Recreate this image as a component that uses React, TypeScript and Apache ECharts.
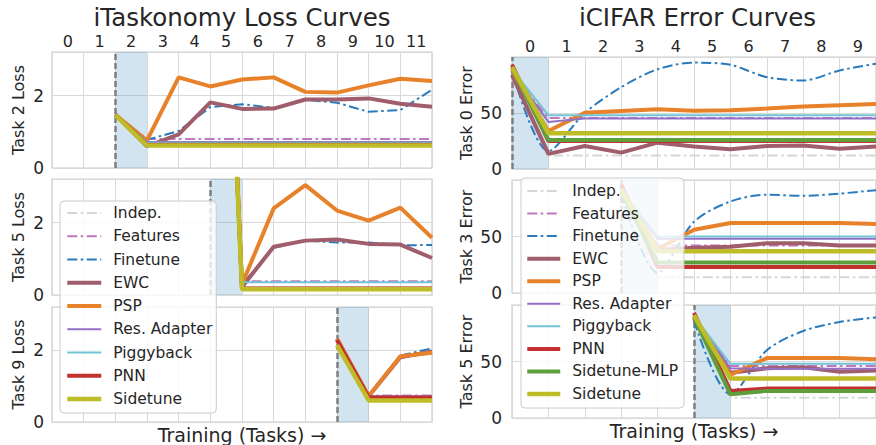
import React, { useEffect, useRef } from 'react';
import * as echarts from 'echarts';

// ---------- categories / tick labels ----------
const methods = ['Indep.', 'Features', 'Finetune', 'EWC', 'PSP', 'Res. Adapter', 'Piggyback', 'PNN', 'Sidetune-MLP', 'Sidetune'];
const leftLegendNames = ['Indep.', 'Features', 'Finetune', 'EWC', 'PSP', 'Res. Adapter', 'Piggyback', 'PNN', 'Sidetune'];
const taskonomyTicks = ['0', '1', '2', '3', '4', '5', '6', '7', '8', '9', '10', '11'];
const cifarTicks = ['0', '1', '2', '3', '4', '5', '6', '7', '8', '9'];
const taskonomyYTicks = [0, 2];
const cifarYTicks = [0, 50];

// ---------- iTaskonomy, Task 2 (starts at task 2) ----------
const tk2Start = 2;
const tk2: Record<string, number[]> = {
  'Indep.': [1.45, 0.64, 0.64, 0.64, 0.64, 0.64, 0.64, 0.64, 0.64, 0.64, 0.64],
  'Features': [1.47, 0.8, 0.8, 0.8, 0.8, 0.8, 0.8, 0.8, 0.8, 0.8, 0.8],
  'Finetune': [1.47, 0.78, 1.02, 1.68, 1.76, 1.66, 1.88, 1.8, 1.55, 1.6, 2.16],
  'EWC': [1.47, 0.6, 0.93, 1.81, 1.63, 1.64, 1.89, 1.89, 1.92, 1.77, 1.69],
  'PSP': [1.47, 0.76, 2.5, 2.25, 2.44, 2.5, 2.1, 2.08, 2.28, 2.46, 2.4],
  'Res. Adapter': [1.47, 0.72, 0.72, 0.72, 0.72, 0.72, 0.72, 0.72, 0.72, 0.72, 0.72],
  'Piggyback': [1.47, 0.7, 0.7, 0.7, 0.7, 0.7, 0.7, 0.7, 0.7, 0.7, 0.7],
  'PNN': [1.47, 0.64, 0.64, 0.64, 0.64, 0.64, 0.64, 0.64, 0.64, 0.64, 0.64],
  'Sidetune': [1.46, 0.62, 0.62, 0.62, 0.62, 0.62, 0.62, 0.62, 0.62, 0.62, 0.62],
};

// ---------- iTaskonomy, Task 5 ----------
const tk5Start = 5;
const tk5: Record<string, number[]> = {
  'Indep.': [20, 0.17, 0.17, 0.17, 0.17, 0.17, 0.17, 0.17],
  'Features': [20, 0.38, 0.38, 0.38, 0.38, 0.38, 0.38, 0.38],
  'Finetune': [20, 0.3, 1.3, 1.5, 1.45, 1.45, 1.37, 1.38],
  'EWC': [20, 0.22, 1.33, 1.5, 1.53, 1.41, 1.39, 1.02],
  'PSP': [20, 0.3, 2.39, 3.03, 2.33, 2.05, 2.41, 1.58],
  'Res. Adapter': [20, 0.2, 0.2, 0.2, 0.2, 0.2, 0.2, 0.2],
  'Piggyback': [20, 0.35, 0.35, 0.35, 0.35, 0.35, 0.35, 0.35],
  'PNN': [20, 0.18, 0.18, 0.18, 0.18, 0.18, 0.18, 0.18],
  'Sidetune': [20, 0.16, 0.16, 0.16, 0.16, 0.16, 0.16, 0.16],
};

// ---------- iTaskonomy, Task 9 ----------
const tk9Start = 9;
const tk9: Record<string, number[]> = {
  'Indep.': [2.15, 0.6, 0.6, 0.6],
  'Features': [2.3, 0.74, 0.74, 0.74],
  'Finetune': [2.3, 0.72, 1.85, 2.05],
  'EWC': [2.3, 0.72, 1.8, 1.96],
  'PSP': [2.32, 0.72, 1.83, 1.93],
  'Res. Adapter': [2.25, 0.72, 0.72, 0.72],
  'Piggyback': [2.25, 0.7, 0.7, 0.7],
  'PNN': [2.28, 0.68, 0.68, 0.68],
  'Sidetune': [2.14, 0.6, 0.6, 0.6],
};

// ---------- iCIFAR, Task 0 ----------
const c0Start = 0;
const c0: Record<string, number[]> = {
  'Indep.': [88, 12, 12, 12, 12, 12, 12, 12, 12, 12, 12],
  'Features': [85, 45.5, 45.5, 45.5, 45.5, 45.5, 45.5, 45.5, 45.5, 45.5, 45.5],
  'Finetune': [88, 16, 50, 73, 89, 95, 93, 82, 79, 88, 94],
  'EWC': [84, 13.5, 20.5, 14.6, 23.5, 20, 17.6, 20.5, 21, 18, 20],
  'PSP': [88, 34, 50.3, 51.8, 53.3, 52, 52.5, 54, 55.7, 57, 58],
  'Res. Adapter': [87, 42, 45, 45, 45, 45, 45, 45, 45, 45, 45],
  'Piggyback': [89, 48, 48, 48, 48, 48, 48, 48, 48, 48, 48],
  'PNN': [93, 25, 25, 25, 25, 25, 25, 25, 25, 25, 25],
  'Sidetune-MLP': [90, 26, 26, 26, 26, 26, 26, 26, 26, 26, 26],
  'Sidetune': [91, 32, 32, 32, 32, 32, 32, 32, 32, 32, 32],
};

// ---------- iCIFAR, Task 3 ----------
const c3Start = 3;
const c3: Record<string, number[]> = {
  'Indep.': [88, 14, 14, 14, 14, 14, 14, 14],
  'Features': [89, 42, 42, 42, 42, 42, 42, 42],
  'Finetune': [88, 18, 63, 81, 87, 86, 88, 91],
  'EWC': [93, 38, 40, 41, 44, 44, 42, 42],
  'PSP': [90, 39, 56, 62, 62, 62, 62, 61],
  'Res. Adapter': [90, 48, 48, 48, 48, 48, 48, 48],
  'Piggyback': [91, 50, 50, 50, 50, 50, 50, 50],
  'PNN': [96, 23, 23, 23, 23, 23, 23, 23],
  'Sidetune-MLP': [90, 27, 27, 27, 27, 27, 27, 27],
  'Sidetune': [92, 37, 37, 37, 37, 37, 37, 37],
};

// ---------- iCIFAR, Task 5 ----------
const c5Start = 5;
const c5: Record<string, number[]> = {
  'Indep.': [88, 18, 18, 18, 18, 18],
  'Features': [88, 46, 46, 46, 46, 46],
  'Finetune': [86, 21, 60, 77, 85, 89],
  'EWC': [88, 40, 44, 45, 41, 42],
  'PSP': [90, 38, 53, 53, 53, 52],
  'Res. Adapter': [89, 44, 43.5, 43.5, 43.5, 43.5],
  'Piggyback': [90, 48, 48, 48, 48, 48],
  'PNN': [93, 24, 26, 26, 26, 26],
  'Sidetune-MLP': [89, 21, 24, 24, 24, 24],
  'Sidetune': [91, 35, 35, 35, 35, 35],
};

// ---------- styles ----------
const dashDot = [10, 3.5, 2.5, 3.5];
const styles: Record<string, { color: string; width: number; dash?: number[] }> = {
  'Indep.': { color: '#d6d6d6', width: 2, dash: dashDot },
  'Features': { color: '#c276bd', width: 2, dash: dashDot },
  'Finetune': { color: '#2a7bbd', width: 2, dash: dashDot },
  'EWC': { color: '#a05e6d', width: 4 },
  'PSP': { color: '#e8822a', width: 4 },
  'Res. Adapter': { color: '#9370c6', width: 2 },
  'Piggyback': { color: '#72c3d5', width: 2 },
  'PNN': { color: '#c3312f', width: 4 },
  'Sidetune-MLP': { color: '#5e9f3c', width: 4 },
  'Sidetune': { color: '#bfbd27', width: 4.5 },
};

const TEXT = '#262626';
const FONT = 'DejaVu Sans';

type Panel = {
  grid: { left: number; top: number; width: number; height: number };
  start: number;
  data: Record<string, number[]>;
  xMax: number;
  yMax: number;
  yInterval: number;
  yName: string;
  topTicks?: string[];
  bottomName?: boolean;
  smoothFinetune?: boolean;
  nameGap: number;
};

const panels: Panel[] = [
  { grid: { left: 52, top: 52, width: 380, height: 116 }, start: tk2Start, data: tk2, xMax: 12, yMax: 3.2, yInterval: taskonomyYTicks[1], yName: 'Task 2 Loss', topTicks: taskonomyTicks, nameGap: 26 },
  { grid: { left: 52, top: 179, width: 380, height: 116 }, start: tk5Start, data: tk5, xMax: 12, yMax: 3.2, yInterval: taskonomyYTicks[1], yName: 'Task 5 Loss', nameGap: 26 },
  { grid: { left: 52, top: 307, width: 380, height: 115 }, start: tk9Start, data: tk9, xMax: 12, yMax: 3.2, yInterval: taskonomyYTicks[1], yName: 'Task 9 Loss', bottomName: true, nameGap: 26 },
  { grid: { left: 512, top: 57, width: 371, height: 112 }, start: c0Start, data: c0, xMax: 10, yMax: 100, yInterval: cifarYTicks[1], yName: 'Task 0 Error', topTicks: cifarTicks, smoothFinetune: true, nameGap: 38 },
  { grid: { left: 512, top: 180, width: 371, height: 113 }, start: c3Start, data: c3, xMax: 10, yMax: 100, yInterval: cifarYTicks[1], yName: 'Task 3 Error', smoothFinetune: true, nameGap: 38 },
  { grid: { left: 512, top: 305, width: 371, height: 113 }, start: c5Start, data: c5, xMax: 10, yMax: 100, yInterval: cifarYTicks[1], yName: 'Task 5 Error', bottomName: true, smoothFinetune: true, nameGap: 38 },
];

function buildOption() {
  const grid: any[] = [];
  const xAxis: any[] = [];
  const topAxes: any[] = [];
  const yAxis: any[] = [];
  const series: any[] = [];

  panels.forEach((p, gi) => {
    grid.push({
      ...p.grid,
      show: true,
      borderColor: '#cccccc',
      borderWidth: 1.2,
      backgroundColor: 'transparent',
    });
    xAxis.push({
      type: 'value',
      gridIndex: gi,
      min: 0,
      max: p.xMax,
      interval: 1,
      position: 'bottom',
      axisLine: { show: false },
      axisTick: { show: false },
      splitLine: { show: true, lineStyle: { color: '#d9d9d9', width: 1 } },
      axisLabel: { show: false },
      name: p.bottomName ? 'Training (Tasks) \u2192' : '',
      nameLocation: 'middle',
      nameGap: 3,
      nameTextStyle: { fontSize: 19, color: TEXT, fontFamily: FONT },
    });
    if (p.topTicks) {
      topAxes.push({
        type: 'category',
        gridIndex: gi,
        position: 'top',
        data: p.topTicks,
        boundaryGap: true,
        axisLine: { show: false },
        axisTick: { show: false },
        splitLine: { show: false },
        axisLabel: { show: true, interval: 0, fontSize: 16, lineHeight: 16, color: TEXT, fontFamily: FONT, margin: 3 },
      });
    }
    yAxis.push({
      type: 'value',
      gridIndex: gi,
      min: 0,
      max: p.yMax,
      interval: p.yInterval,
      axisLine: { show: false },
      axisTick: { show: false },
      splitLine: { show: true, lineStyle: { color: '#d9d9d9', width: 1 } },
      axisLabel: { fontSize: 17, color: TEXT, fontFamily: FONT, margin: gi < 3 ? 8 : 10, showMaxLabel: false },
      name: p.yName,
      nameLocation: 'middle',
      nameGap: p.nameGap,
      nameTextStyle: { fontSize: 16, color: TEXT, fontFamily: FONT },
    });

    const present = methods.filter((m) => p.data[m]);
    present.forEach((m, j) => {
      const st = styles[m];
      const s: any = {
        type: 'line',
        name: m,
        xAxisIndex: gi,
        yAxisIndex: gi,
        data: p.data[m].map((v, i) => [p.start + i, v]),
        symbol: 'none',
        showSymbol: false,
        silent: true,
        clip: true,
        smooth: p.smoothFinetune && m === 'Finetune' ? 0.3 : false,
        lineStyle: { color: st.color, width: st.width, type: st.dash ? st.dash : 'solid' },
        itemStyle: { color: st.color },
      };
      if (j === 0) {
        s.markArea = {
          silent: true,
          z: 1,
          itemStyle: { color: 'rgba(31,119,180,0.2)' },
          data: [[{ xAxis: p.start }, { xAxis: p.start + 1 }]],
        };
        s.markLine = {
          silent: true,
          z: 3,
          symbol: ['none', 'none'],
          label: { show: false },
          lineStyle: { color: '#7f7f7f', type: [6, 3], width: 2.5 },
          data: [{ xAxis: p.start }],
        };
      }
      series.push(s);
    });
  });

  const legendCommon = {
    orient: 'vertical',
    selectedMode: false,
    backgroundColor: 'rgba(255,255,255,0.8)',
    borderColor: '#cccccc',
    borderWidth: 1,
    borderRadius: 4,
    itemHeight: 14,
    itemStyle: { opacity: 0 },
    lineStyle: { width: 'inherit' },
    textStyle: { fontSize: 15.5, color: TEXT, fontFamily: FONT, lineHeight: 16, padding: [0, 0, 0, 7] },
    z: 4,
  };

  const titleStyle = { fontSize: 24.5, lineHeight: 20, fontWeight: 'normal', color: TEXT, fontFamily: FONT };

  return {
    animation: false,
    textStyle: { fontFamily: FONT },
    title: [
      { text: 'iTaskonomy Loss Curves', left: 242, top: 7.5, padding: 0, textAlign: 'center', textStyle: titleStyle },
      { text: 'iCIFAR Error Curves', left: 697.5, top: 7.5, padding: 0, textAlign: 'center', textStyle: titleStyle },
    ],
    legend: [
      { ...legendCommon, data: leftLegendNames, left: 60, top: 201, itemWidth: 34, itemGap: 7.25, padding: [4, 4, 6, 5] },
      { ...legendCommon, data: methods, left: 521, top: 178, itemWidth: 33, itemGap: 6.56, padding: [5, 6, 6, 4] },
    ],
    grid,
    xAxis: [...xAxis, ...topAxes],
    yAxis,
    series,
  };
}

export default function App() {
  const ref = useRef<HTMLDivElement>(null);
  useEffect(() => {
    if (!ref.current) return;
    const chart = echarts.init(ref.current, null, { renderer: 'svg' });
    chart.setOption(buildOption() as any);
    return () => chart.dispose();
  }, []);
  return <div ref={ref} style={{ position: 'absolute', left: 0, top: 0, width: 876, height: 445, background: '#fff' }} />;
}
